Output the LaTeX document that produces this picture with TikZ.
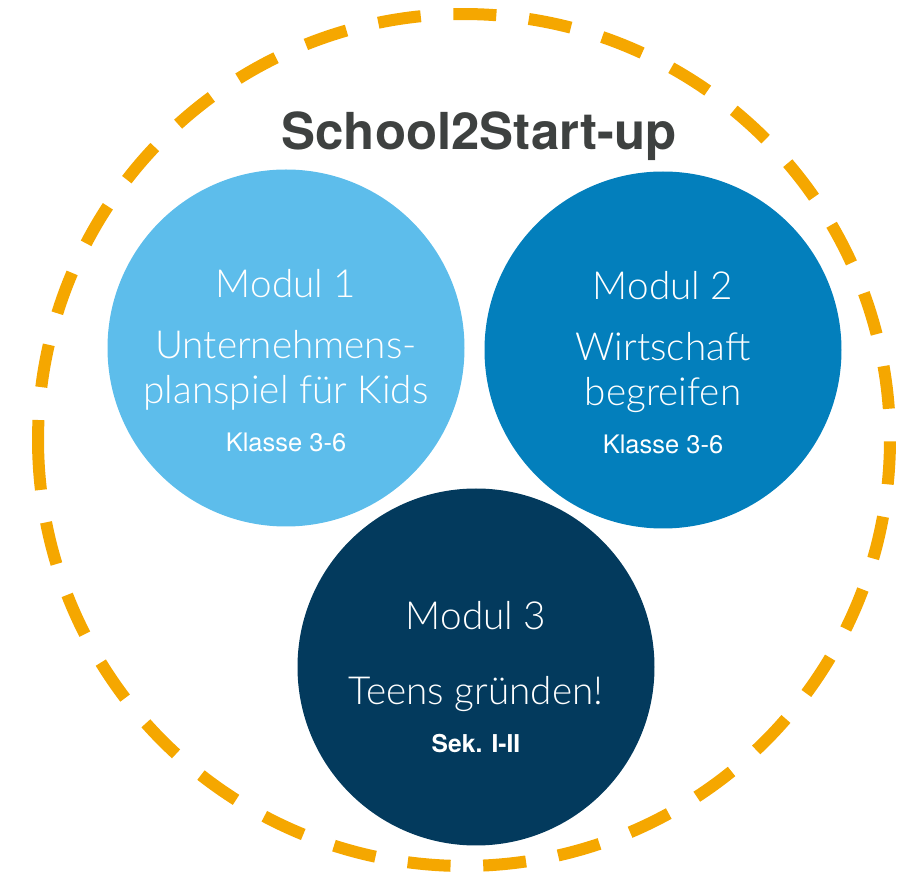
\documentclass[tikz,border=0pt]{standalone}
\usepackage{fontspec}
\setmainfont{TeX Gyre Heros}
\newfontfamily\lightfont{Lato Light}
\usepackage{tikz}
\definecolor{skyblue}{HTML}{5DBDEB}
\definecolor{midblue}{HTML}{037FBC}
\definecolor{navyblue}{HTML}{033A5D}
\definecolor{ringorange}{HTML}{F5A700}
\definecolor{titlegrey}{HTML}{3E4140}
\tikzset{
  modul/.style={circle, minimum size=7.14cm, inner sep=0pt},
  bigline/.style={anchor=base, text=white, inner sep=0pt,
    font=\lightfont\fontsize{22}{26}\selectfont},
  smallline/.style={anchor=base, text=white, inner sep=0pt,
    font=\fontsize{14.5}{17}\selectfont},
  ringdash/.style={ringorange, line width=0.24cm},
}

\begin{document}
\begin{tikzpicture}[x=1cm, y=1cm]
  \useasboundingbox (0,0) rectangle (18.2,17.48);
  % dashed ring, one long dash where the path closes on the left
  \begin{scope}[shift={(9.28,8.68)}]
    \foreach \k in {0,...,33}{
      \draw[ringdash] ({172.87-10.18*\k}:8.52)
        arc[start angle={172.87-10.18*\k}, delta angle=-5.784, radius=8.52];}
    \draw[ringdash] (186.73:8.52) arc[start angle=186.73, end angle=177.31, radius=8.52];
  \end{scope}
  \node[anchor=base, inner sep=0pt, text=titlegrey, font=\bfseries\fontsize{29}{34}\selectfont]
    (title) at (9.58,14.48) {School2Start-up};
  % the three modules
  \node[modul, fill=skyblue] (m1) at (5.72,10.52) {};
  \node[modul, fill=midblue] (m2) at (13.26,10.48) {};
  \node[modul, fill=navyblue] (m3) at (9.52,4.14) {};
  \node[bigline] (m1a) at ([yshift=1.0cm]m1.center) {Modul 1};
  \node[bigline] (m1b) at ([yshift=-0.22cm]m1.center) {Unternehmens-};
  \node[bigline] (m1c) at ([yshift=-1.12cm]m1.center) {planspiel für Kids};
  \node[smallline] (m1d) at ([yshift=-2.07cm]m1.center) {Klasse 3-6};
  \node[bigline] (m2a) at ([yshift=1.0cm]m2.center) {Modul 2};
  \node[bigline] (m2b) at ([yshift=-0.22cm]m2.center) {Wirtschaft};
  \node[bigline] (m2c) at ([yshift=-1.12cm]m2.center) {begreifen};
  \node[smallline] (m2d) at ([yshift=-2.07cm]m2.center) {Klasse 3-6};
  \node[bigline] (m3a) at ([yshift=0.74cm]m3.center) {Modul 3};
  \node[bigline] (m3b) at ([yshift=-0.76cm]m3.center) {Teens gründen!};
  \node[smallline, font=\bfseries\fontsize{14}{17}\selectfont] (m3c) at ([yshift=-1.72cm]m3.center) {Sek. I-II};
\end{tikzpicture}
\end{document}
